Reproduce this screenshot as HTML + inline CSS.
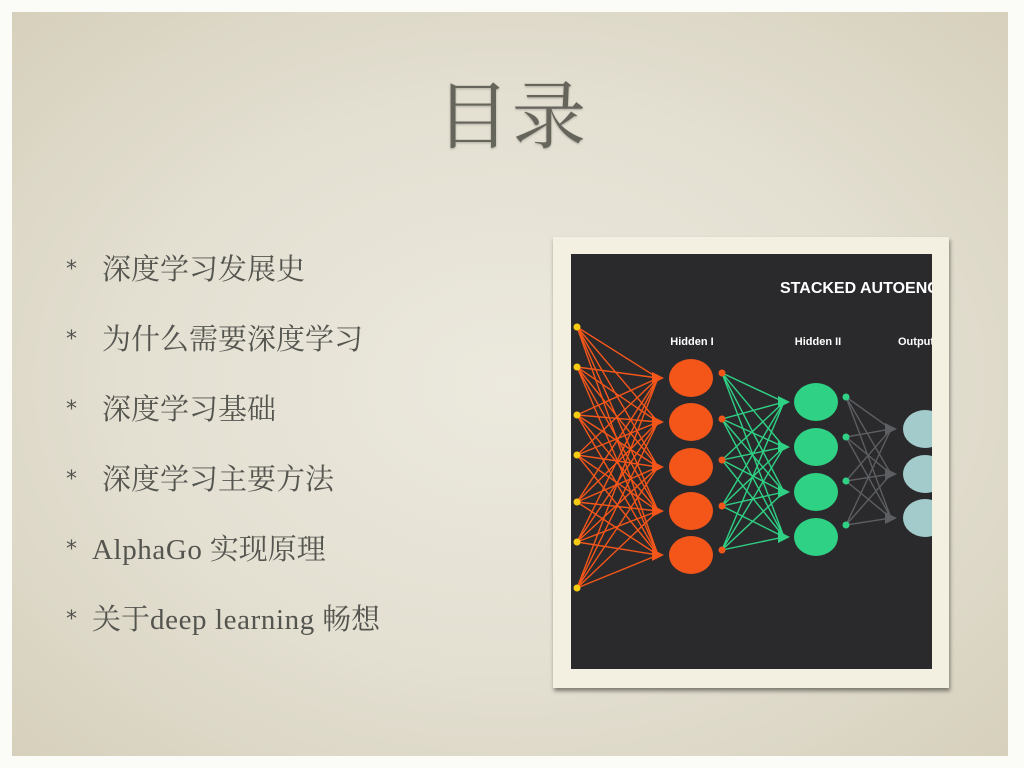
<!DOCTYPE html>
<html><head><meta charset="utf-8">
<style>
body{margin:0;width:1024px;height:768px;background:#fbfbf8;overflow:hidden;position:relative;font-family:"Liberation Serif","Noto Serif CJK SC",serif}
#slide{position:absolute;left:12px;top:12px;width:996px;height:744px;background:radial-gradient(ellipse at 50% 50%,#ece9de 0%,#e3dfd1 55%,#d6d0bc 100%)}
#title{position:absolute;left:0;width:1024px;top:70px;text-align:center;font-size:74px;color:#66655c;letter-spacing:2px;line-height:96px;text-shadow:0 1px 2px rgba(0,0,0,0.25)}
.item{position:absolute;left:66px;font-size:29px;color:#555550;line-height:36px;white-space:nowrap}
.lat{letter-spacing:0.6px}
.star{display:inline-block;font-family:"DejaVu Sans",sans-serif;font-size:22px;vertical-align:top;margin-top:0px;width:26px}
</style></head><body>
<div id="slide"></div>
<div id="title">目录</div>
<div class="item" style="top:252px"><span class="star">*</span><span style="margin-left:10px">深度学习发展史</span></div>
<div class="item" style="top:322px"><span class="star">*</span><span style="margin-left:10px">为什么需要深度学习</span></div>
<div class="item" style="top:392px"><span class="star">*</span><span style="margin-left:10px">深度学习基础</span></div>
<div class="item" style="top:462px"><span class="star">*</span><span style="margin-left:10px">深度学习主要方法</span></div>
<div class="item" style="top:532px"><span class="star">*</span><span style="margin-left:0px"><span class="lat">AlphaGo</span> 实现原理</span></div>
<div class="item" style="top:602px"><span class="star">*</span><span style="margin-left:0px">关于<span class="lat">deep learning</span> 畅想</span></div>

<div style="position:absolute;left:553px;top:237px;width:396px;height:451px;background:#f3f0e2;box-shadow:1px 3px 4px rgba(0,0,0,0.45)"></div>
<svg id="net" style="position:absolute;left:571px;top:254px" width="361" height="415" viewBox="571 254 361 415">
<defs><clipPath id="cp"><rect x="571" y="254" width="361" height="415"/></clipPath></defs>
<g clip-path="url(#cp)" id="g">
<rect x="571" y="254" width="361" height="415" fill="#2a2a2c"/>
<text x="780" y="293" fill="#fff" font-family="Liberation Sans,sans-serif" font-weight="bold" font-size="16">STACKED AUTOENCODER</text>
<text x="692" y="345" fill="#fff" text-anchor="middle" font-family="Liberation Sans,sans-serif" font-weight="bold" font-size="11">Hidden I</text>
<text x="818" y="345" fill="#fff" text-anchor="middle" font-family="Liberation Sans,sans-serif" font-weight="bold" font-size="11">Hidden II</text>
<text x="898" y="345" fill="#fff" font-family="Liberation Sans,sans-serif" font-weight="bold" font-size="11">Output</text>
</g>
</svg>
<script>
const inputY=[327,367,415,455,502,542,588];
const hidden1Y=[378,422,467,511,555];
const hidden1OutY=[373,419,460,506,550];
const hidden2Y=[402,447,492,537];
const hidden2OutY=[397,437,481,525];
const outputY=[429,474,518];
const NS='http://www.w3.org/2000/svg';
const g=document.getElementById('g');
function mk(t,a){const e=document.createElementNS(NS,t);for(const k in a)e.setAttribute(k,a[k]);g.appendChild(e);return e;}
function edges(x1,ys1,x2,ys2,col,nm){
  ys1.forEach(a=>ys2.forEach(b=>{const l=mk('line',{x1:x1,y1:a,x2:x2-6,y2:b,stroke:col,'stroke-width':1.4});
  
  }));
  ys2.forEach(b=>{const p=mk('polygon',{points:`${x2},${b} ${x2-12},${b-6} ${x2-12},${b+6}`,fill:col});
  
  });
}
function nodes(x,ys,rx,ry,col,nm){ys.forEach(y=>{const e=mk('ellipse',{cx:x,cy:y,rx:rx,ry:ry,fill:col});
  
  });}
edges(577,inputY,664,hidden1Y,'#f4561a','input-edge');
edges(722,hidden1OutY,790,hidden2Y,'#2fd185','hidden1-edge');
edges(846,hidden2OutY,897,outputY,'#5c5e62','hidden2-edge');
nodes(577,inputY,3.5,3.5,'#f6cc12','input-node');
nodes(691,hidden1Y,22,19,'#f4561a','hidden1-node');
nodes(722,hidden1OutY,3.5,3.5,'#f4561a','hidden1-out-dot');
nodes(816,hidden2Y,22,19,'#2fd185','hidden2-node');
nodes(846,hidden2OutY,3.5,3.5,'#2fd185','hidden2-out-dot');
nodes(925,outputY,22,19,'#a3cbcb','output-node');
</script>
</body></html>
